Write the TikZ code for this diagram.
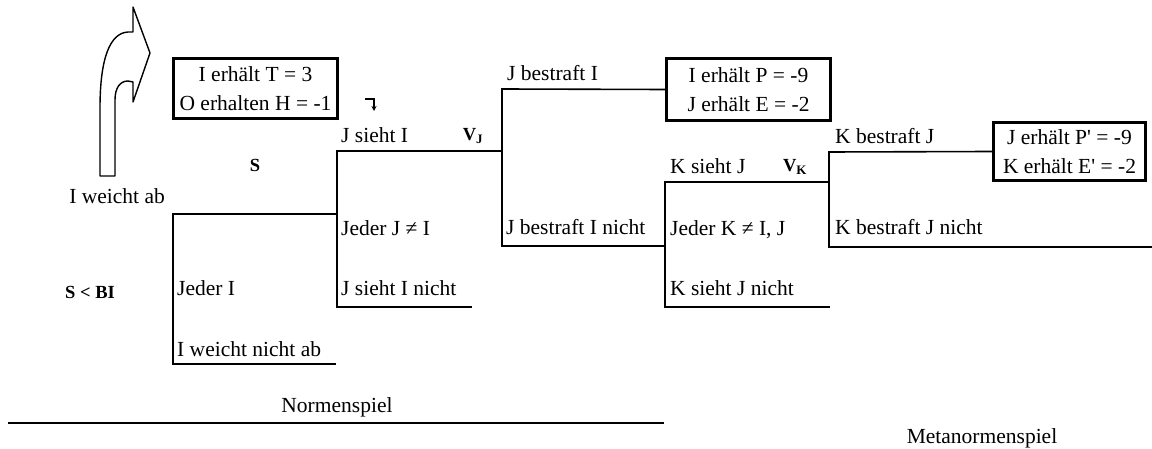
\documentclass[tikz,border=0pt]{standalone}
\usepackage{fontspec}
\setmainfont{Liberation Serif}
\usetikzlibrary{arrows.meta}
\begin{document}
\begin{tikzpicture}[x=1pt,y=-1pt,
  lbl/.style={anchor=base west, inner sep=0pt, font=\fontsize{21.5}{25}\selectfont},
  tag/.style={anchor=center, inner sep=0pt, font=\fontsize{18.5}{22}\selectfont\bfseries},
  payoff/.style={draw, line width=3pt, inner sep=0pt, align=center,
    font=\fontsize{21.5}{29}\selectfont},
  branch/.style={line width=1.6pt},
]
\useasboundingbox (0,0) rectangle (1152,449);

% turn-off arrow
\draw[line width=1.4pt, fill=white, line join=round]
  (100,176) -- (100,108) .. controls (100,58) and (110,33) .. (128,32)
  -- (133,32) -- (133,7) -- (150,53) -- (133,102) -- (133,82) -- (128,81)
  .. controls (120,81) and (115,88) .. (115,100) -- (115,176) -- cycle;

% payoff boxes
\node[payoff, minimum width=164pt, minimum height=60pt] (b1) at (255.5,88.5)
  {I erhält T = 3\\O erhalten H = -1};
\node[payoff, minimum width=164pt, minimum height=62pt] (b2) at (748.5,89.5)
  {I erhält P = -9\\J erhält E = -2};
\node[payoff, minimum width=152pt, minimum height=58pt] (b3) at (1069.5,151.5)
  {J erhält P\textquotesingle{} = -9\\K erhält E\textquotesingle{} = -2};

% bracket corners of the game tree
\coordinate (a1) at (173,214);  \coordinate (a2) at (173,364);  \coordinate (a3) at (336,364);
\coordinate (c1) at (337,151);  \coordinate (c2) at (337,307);  \coordinate (c3) at (472,307);
\coordinate (cm) at (337,214);
\coordinate (d0) at (502,89);   \coordinate (d1) at (502,151);  \coordinate (d2) at (502,246);
\coordinate (e0) at (665,182);  \coordinate (e1) at (665,246);  \coordinate (e2) at (665,307);
\coordinate (e3) at (830,307);
\coordinate (f0) at (829,152);  \coordinate (f1) at (829,182);  \coordinate (f2) at (829,247);
\coordinate (f3) at (1152,247);

% tree branches
\draw[branch] (cm) -- (a1) -- (a2) -- (a3);
\draw[branch] (d1) -- (c1) -- (c2) -- (c3);
\draw[branch] (b2.west) -- (d0) -- (d2) -- (e1);
\draw[branch] (f1) -- (e0) -- (e2) -- (e3);
\draw[branch] (b3.west) -- (f0) -- (f2) -- (f3);

% small corner arrow
\coordinate (h0) at (365,99); \coordinate (h1) at (374,99); \coordinate (h2) at (374,111);
\draw[line width=1.2pt, -{Stealth[length=5pt,width=5pt]}] (h0) -- (h1) -- (h2);

% branch labels
\node[lbl, anchor=base east] (l1) at (165,204) {I weicht ab};
\node[lbl] (l2) at (177,296) {Jeder I};
\node[lbl] (l3) at (177,356) {I weicht nicht ab};
\node[lbl] (l4) at (341,143) {J sieht I};
\node[lbl] (l5) at (341,236) {Jeder J ≠ I};
\node[lbl] (l6) at (341,296) {J sieht I nicht};
\node[lbl] (l7) at (507,81) {J bestraft I};
\node[lbl] (l8) at (506,235) {J bestraft I nicht};
\node[lbl] (l9) at (670,174) {K sieht J};
\node[lbl] (l10) at (670,236) {Jeder K ≠ I, J};
\node[lbl] (l11) at (670,296) {K sieht J nicht};
\node[lbl] (l12) at (835,144) {K bestraft J};
\node[lbl] (l13) at (835,235) {K bestraft J nicht};

% parameter tags
\node[tag] (t1) at (255,165) {S};
\node[tag] (t2) at (90,292) {S < BI};
\node[tag] (t3) at (473,136) {V\textsubscript{J}};
\node[tag] (t4) at (795,167) {V\textsubscript{K}};

% game captions
\node[lbl, anchor=center] (n1) at (337,407) {Normenspiel};
\coordinate (s0) at (8,423); \coordinate (s1) at (664,423);
\draw[branch] (s0) -- (s1);
\node[lbl, anchor=center] (n2) at (982,438) {Metanormenspiel};
\end{tikzpicture}
\end{document}
